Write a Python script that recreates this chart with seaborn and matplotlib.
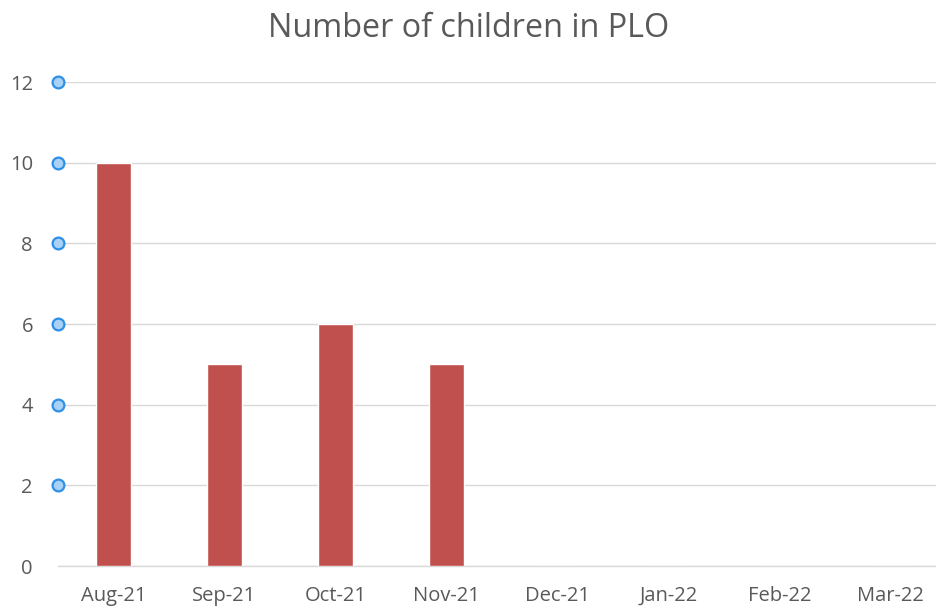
import matplotlib
matplotlib.use("Agg")
import matplotlib.pyplot as plt
import seaborn as sns
import pandas as pd

months = ["Aug-21", "Sep-21", "Oct-21", "Nov-21", "Dec-21", "Jan-22", "Feb-22", "Mar-22"]
children = [10, 5, 6, 5, 0, 0, 0, 0]
y_ticks = [0, 2, 4, 6, 8, 10, 12]
handle_values = [2, 4, 6, 8, 10, 12]

sns.set_theme(style="white")
plt.rcParams['font.family'] = ['Open Sans', 'DejaVu Sans']

df = pd.DataFrame({"month": months, "children": children})

fig = plt.figure(figsize=(9.37, 6.06), dpi=100)
ax = fig.add_axes([58/937, 40/606, 1 - 58/937, (566-82)/606])

sns.barplot(data=df, x="month", y="children", color="#C0504D", saturation=1,
            width=0.31, ax=ax, zorder=3)

ax.set_ylim(0, 12)
ax.set_xlim(-0.5, -0.5 + (937-58)/111)
ax.set_yticks(y_ticks)
ax.yaxis.grid(True, color="#D9D9D9", linewidth=1, zorder=0)
ax.set_axisbelow(True)
for s in ["top", "right", "left"]:
    ax.spines[s].set_visible(False)
ax.spines["bottom"].set_color("#D9D9D9")
ax.spines["bottom"].set_linewidth(1)
ax.tick_params(axis="both", length=0, labelsize=14.5, labelcolor="#595959")
ax.tick_params(axis="y", pad=18)
ax.tick_params(axis="x", pad=14.5)
ax.set_xlabel("")
ax.set_ylabel("")

ax.scatter([-0.5] * len(handle_values), handle_values, s=72, facecolor="#A9D0F5",
           edgecolor="#2E8FE6", linewidth=1.6, zorder=5, clip_on=False)

fig.text(469/937, 1 - 37/606, "Number of children in PLO", ha="center", va="baseline",
         fontsize=23.3, color="#595959")

fig.savefig("out.png", dpi=100)
